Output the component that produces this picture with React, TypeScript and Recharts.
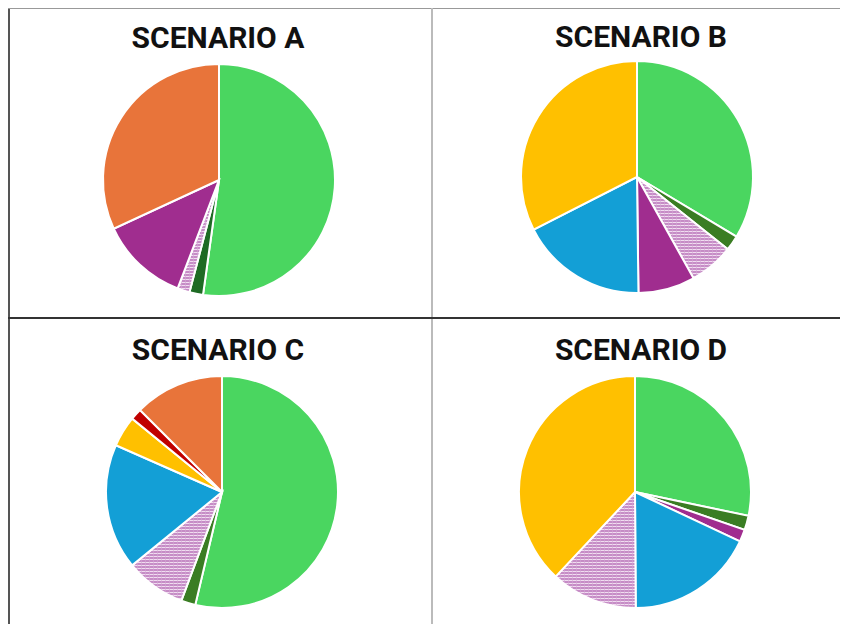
import { PieChart, Pie, Cell } from "recharts";

// slices listed clockwise from 12 o'clock, values in percent
const scenarioA = ["green", "darkGreen", "hatched", "purple", "orange"];
const valuesA = [52.2, 1.9, 1.7, 12.3, 31.9];

const scenarioB = ["green", "olive", "hatched", "purple", "blue", "yellow"];
const valuesB = [33.6, 2.1, 6.2, 7.9, 17.7, 32.5];

const scenarioC = ["green", "olive", "hatched", "blue", "yellow", "red", "orange"];
const valuesC = [53.7, 2.0, 8.4, 17.5, 4.3, 1.6, 12.5];

const scenarioD = ["green", "olive", "purple", "blue", "hatched", "yellow"];
const valuesD = [28.3, 2.0, 1.7, 17.9, 12.1, 38.0];

const titles = ["SCENARIO A", "SCENARIO B", "SCENARIO C", "SCENARIO D"];

const colors: Record<string, string> = {
  green: "#4ad660",
  darkGreen: "#1e6b24",
  olive: "#3a7d23",
  purple: "#a02d8f",
  orange: "#e8743a",
  blue: "#139fd6",
  yellow: "#ffc000",
  red: "#c00000",
};

function Panel({
  id,
  title,
  names,
  values,
  left,
  top,
  cx,
  cy,
  titleTop,
}: {
  id: string;
  title: string;
  names: string[];
  values: number[];
  left: number;
  top: number;
  cx: number;
  cy: number;
  titleTop: number;
}) {
  const data = names.map((name, i) => ({ name, value: values[i] }));
  return (
    <div style={{ position: "absolute", left, top, width: 421, height: 308 }}>
      <div
        style={{
          position: "absolute",
          left: 0,
          top: titleTop,
          width: 416,
          textAlign: "center",
          fontFamily: "Roboto, sans-serif",
          fontWeight: 700,
          fontSize: 30,
          lineHeight: "34px",
          color: "#111",
          zIndex: 1,
        }}
      >
        {title}
      </div>
      <PieChart width={421} height={308} margin={{ top: 0, right: 0, bottom: 0, left: 0 }}>
        <defs>
          <pattern id={id} width="4" height="3" patternUnits="userSpaceOnUse">
            <rect width="4" height="3" fill="#c68cc6" />
            <rect width="4" height="1" fill="#f0dcf0" />
            <rect x="3" width="1" height="3" fill="#d4a6d4" opacity="0.6" />
          </pattern>
        </defs>
        <Pie
          data={data}
          dataKey="value"
          cx={cx}
          cy={cy}
          outerRadius={116}
          startAngle={90}
          endAngle={-270}
          stroke="#ffffff"
          strokeWidth={2}
          isAnimationActive={false}
        >
          {data.map((d) => (
            <Cell
              key={d.name}
              fill={d.name === "hatched" ? `url(#${id})` : colors[d.name]}
            />
          ))}
        </Pie>
      </PieChart>
    </div>
  );
}

export default function App() {
  return (
    <div
      style={{
        position: "relative",
        width: 840,
        height: 616,
        overflow: "hidden",
        background: "#fff",
      }}
    >
      <Panel id="hA" title={titles[0]} names={scenarioA} values={valuesA} left={2} top={1} cx={209} cy={171} titleTop={12} />
      <Panel id="hB" title={titles[1]} names={scenarioB} values={valuesB} left={425} top={1} cx={204} cy={168} titleTop={11} />
      <Panel id="hC" title={titles[2]} names={scenarioC} values={valuesC} left={2} top={311} cx={212} cy={173} titleTop={14} />
      <Panel id="hD" title={titles[3]} names={scenarioD} values={valuesD} left={425} top={311} cx={202} cy={173} titleTop={14} />
      {/* frame and dividers */}
      <div style={{ position: "absolute", left: 0, top: 0, width: 2, height: 616, background: "#555" }} />
      <div style={{ position: "absolute", left: 0, top: 0, width: 840, height: 1, background: "#999" }} />
      <div style={{ position: "absolute", left: 423, top: 0, width: 2, height: 616, background: "#bbb" }} />
      <div style={{ position: "absolute", left: 0, top: 309, width: 840, height: 2, background: "#333" }} />
    </div>
  );
}
